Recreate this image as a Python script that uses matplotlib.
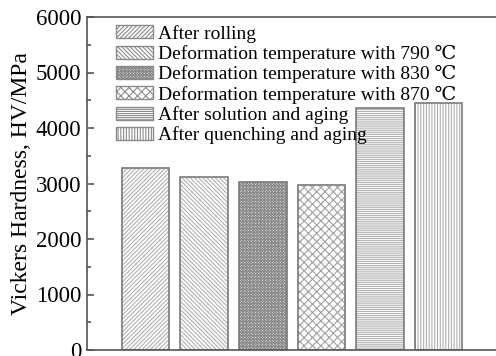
import numpy as np
import matplotlib.pyplot as plt
from matplotlib.ticker import MultipleLocator

# Hardness values
labels = ['After rolling',
          'Deformation temperature with 790 \u2103',
          'Deformation temperature with 830 \u2103',
          'Deformation temperature with 870 \u2103',
          'After solution and aging',
          'After quenching and aging']
hardness = [3280, 3120, 3030, 2980, 4360, 4450]
hatches = ['////////', '\\\\\\\\\\\\\\\\', 'xxxxxxxxxxxx', 'xxxx', '--------', '||||||']
hatch_colors = ['#b0b0b0', '#b0b0b0', '#8c8c8c', '#a0a0a0', '#b0b0b0', '#b0b0b0']

plt.rcParams['font.family'] = ['Liberation Serif', 'DejaVu Serif']
plt.rcParams['hatch.linewidth'] = 0.8

fig = plt.figure(figsize=(4.96, 3.56), dpi=100)
ax = fig.add_axes([87/496, 6/356, 439.5/496, 333/356])

x = np.arange(1, len(hardness) + 1)
handles = []
for i in range(len(hardness)):
    b = ax.bar(x[i], hardness[i], width=0.81, color='white',
               edgecolor=hatch_colors[i], hatch=hatches[i], linewidth=0,
               label=labels[i])
    handles.append(b)
    # outline on top
    ax.bar(x[i], hardness[i], width=0.81, fill=False,
           edgecolor='#7a7a7a', linewidth=1.2)

ax.set_xlim(0, 7.5)
ax.set_ylim(0, 6000)
ax.yaxis.set_major_locator(MultipleLocator(1000))
ax.yaxis.set_minor_locator(MultipleLocator(500))
ax.tick_params(axis='y', which='major', direction='in', length=5,
               width=1.2, color='#555555', labelsize=16.5, pad=4)
ax.tick_params(axis='y', which='minor', direction='in', length=3,
               width=1.2, color='#555555')
ax.tick_params(axis='x', bottom=False, labelbottom=False)
for s in ax.spines.values():
    s.set_color('#555555')
    s.set_linewidth(1.2)

ax.set_ylabel('Vickers Hardness, HV/MPa', fontsize=17, labelpad=3)

leg = ax.legend(handles=handles, loc='upper left', frameon=False,
                fontsize=14, handlelength=1.9, handleheight=0.65,
                handletextpad=0.25, labelspacing=0.12,
                bbox_to_anchor=(0.048, 1.0), borderaxespad=0)
for p in leg.get_patches():
    p.set_linewidth(1.0)
    p.set_edgecolor('#8a8a8a')

fig.savefig('out.png', dpi=100)
